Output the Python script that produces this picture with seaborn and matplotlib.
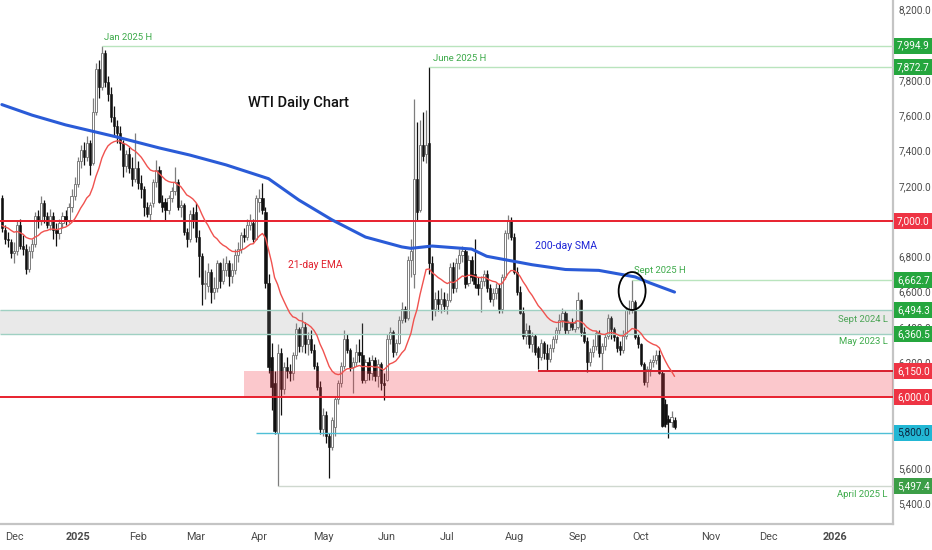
import matplotlib
matplotlib.use("Agg")
import matplotlib.pyplot as plt
from matplotlib.patches import Ellipse
from matplotlib.transforms import blended_transform_factory
from matplotlib.ticker import StrMethodFormatter
import seaborn as sns
import numpy as np
import pandas as pd

sns.set_theme(style="white")
plt.rcParams['font.family'] = ['Roboto', 'DejaVu Sans']

# daily WTI bars, 25 Nov 2024 -> 16 Oct 2025 (one value per trading day)
opens = [
    7130, 6950, 6900, 6880,                                                   # Nov
    6820, 6830, 6980, 6860, 6840, 6730, 6830, 6870, 7030, 7000, 7100, 7030,
    6980, 7030, 6950, 6930, 6990, 7030, 7000, 7080, 7140,                     # Dec
    7210, 7340, 7400, 7360, 7440, 7330, 7620, 7860, 7760, 7950, 7790, 7720,
    7590, 7540, 7500, 7440, 7310, 7380, 7300, 7240,                           # Jan
    7300, 7215, 7180, 7080, 7040, 7100, 7220, 7290, 7110, 7110, 7060, 7130,
    7170, 7220, 7080, 7090, 6940, 6900, 7040,                                 # Feb
    7050, 6910, 6800, 6640, 6630, 6710, 6600, 6620, 6760, 6660, 6720, 6760,
    6690, 6720, 6810, 6840, 6920, 6910, 6980, 6990, 6900,                     # Mar
    7110, 7130, 7050, 6650, 6230, 6080, 5800, 6250, 6050, 6170, 6150, 6140,
    6240, 6390, 6290, 6400, 6300, 6330, 6270, 6180, 6060,                     # Apr
    5820, 5900, 5780, 5720, 5830, 5990, 6080, 6180, 6330, 6270, 6170, 6200,
    6260, 6240, 6100, 6200, 6140, 6210, 6120, 6190, 6080,                     # May
    6100, 6330, 6370, 6260, 6310, 6440, 6500, 6450, 6780, 6700, 7240, 7060,
    7430, 7380, 7440, 6760, 6500, 6560, 6530, 6560,                           # Jun
    6520, 6550, 6740, 6620, 6760, 6810, 6830, 6650, 6780, 6700, 6640, 6620,
    6660, 6700, 6620, 6560, 6590, 6620, 6500, 6680, 6930, 7000,               # Jul
    6910, 6710, 6600, 6480, 6350, 6380, 6300, 6350, 6280, 6230, 6310, 6250,
    6220, 6280, 6330, 6380, 6440, 6480, 6380, 6420, 6390,                     # Aug
    6400, 6550, 6370, 6320, 6200, 6260, 6290, 6365, 6250, 6290, 6350, 6450,
    6390, 6340, 6290, 6270, 6350, 6495, 6500, 6540, 6345,                     # Sep
    6300, 6190, 6085, 6160, 6200, 6210, 6240, 6140, 5960, 5880, 5860, 5870,   # Oct
]
highs = [
    7150, 6980, 6940, 6900,
    6880, 7000, 7010, 6920, 6870, 6860, 6900, 7050, 7060, 7140, 7120, 7050,
    7070, 7050, 6990, 7010, 7050, 7060, 7100, 7180, 7250,
    7360, 7430, 7450, 7480, 7460, 7700, 7895, 7910, 7995, 7970, 7820, 7760,
    7650, 7570, 7540, 7460, 7400, 7420, 7360, 7500,
    7340, 7260, 7200, 7110, 7110, 7240, 7346, 7310, 7150, 7130, 7150, 7190,
    7306, 7240, 7120, 7100, 6960, 7060, 7080,
    7100, 6950, 6820, 6720, 6760, 6730, 6680, 6780, 6770, 6790, 6800, 6780,
    6760, 6840, 6880, 6940, 6960, 7010, 7040, 7010, 7150,
    7180, 7215, 7080, 6700, 6310, 6150, 6300, 6280, 6200, 6230, 6190, 6260,
    6420, 6400, 6484, 6430, 6370, 6380, 6300, 6200, 6090,
    5940, 5920, 5800, 5890, 6010, 6100, 6200, 6380, 6360, 6280, 6230, 6300,
    6330, 6422, 6220, 6230, 6240, 6230, 6220, 6200, 6140,
    6360, 6400, 6380, 6330, 6460, 6540, 6520, 6800, 6900, 7690, 7560, 7570,
    7620, 7630, 7873, 6800, 6600, 6610, 6620, 6600,
    6590, 6760, 6770, 6790, 6840, 6860, 6840, 6810, 6800, 6900, 6680, 6690,
    6720, 6720, 6640, 6620, 6650, 6640, 6700, 6950, 7034, 7020,
    6930, 6740, 6630, 6510, 6420, 6410, 6370, 6360, 6290, 6330, 6320, 6300,
    6300, 6350, 6400, 6470, 6507, 6490, 6440, 6450, 6440,
    6597, 6560, 6400, 6340, 6280, 6330, 6380, 6380, 6310, 6360, 6470, 6460,
    6400, 6350, 6320, 6380, 6510, 6550, 6663, 6550, 6360,
    6310, 6200, 6180, 6220, 6240, 6270, 6269, 6150, 5990, 5900, 5920, 5890,
]
lows = [
    6940, 6870, 6850, 6790,
    6760, 6810, 6840, 6810, 6700, 6710, 6790, 6850, 6960, 6980, 6990, 6960,
    6950, 6900, 6860, 6900, 6960, 6980, 6990, 7050, 7120,
    7190, 7300, 7320, 7340, 7260, 7320, 7600, 7700, 7740, 7760, 7680, 7560,
    7480, 7440, 7400, 7250, 7280, 7270, 7200, 7220,
    7180, 7130, 7030, 7020, 7000, 7080, 7190, 7100, 7050, 7005, 7040, 7110,
    7150, 7060, 7020, 6920, 6853, 6880, 6960,
    6880, 6680, 6524, 6560, 6600, 6535, 6560, 6600, 6620, 6640, 6690, 6630,
    6650, 6700, 6770, 6820, 6880, 6890, 6950, 6880, 6890,
    7050, 7040, 6620, 6140, 5930, 5790, 5497, 5900, 6020, 6110, 6090, 6100,
    6220, 6260, 6260, 6250, 6240, 6250, 6160, 6040, 5790,
    5780, 5740, 5543, 5700, 5780, 5960, 6060, 6160, 6250, 6150, 6025, 6180,
    6200, 6080, 6080, 6100, 6100, 6090, 6060, 6042, 5985,
    6090, 6300, 6230, 6240, 6300, 6420, 6430, 6440, 6680, 6620, 7000, 7050,
    7340, 7330, 6700, 6440, 6460, 6490, 6480, 6490,
    6470, 6540, 6590, 6600, 6730, 6770, 6620, 6630, 6660, 6620, 6580, 6484,
    6630, 6600, 6540, 6520, 6560, 6480, 6480, 6670, 6900, 6890,
    6700, 6580, 6470, 6330, 6300, 6280, 6260, 6240, 6160, 6210, 6220, 6155,
    6200, 6260, 6310, 6360, 6400, 6360, 6360, 6380, 6370,
    6390, 6350, 6310, 6144, 6180, 6230, 6270, 6230, 6155, 6270, 6330, 6330,
    6320, 6260, 6240, 6250, 6330, 6470, 6480, 6330, 6280,
    6180, 6070, 6060, 6120, 6170, 6190, 6130, 5830, 5830, 5770, 5830, 5820,
]
closes = [
    6960, 6900, 6890, 6820,
    6830, 6980, 6860, 6840, 6730, 6830, 6870, 7030, 7000, 7100, 7030, 6980,
    7030, 6950, 6930, 6990, 7030, 7000, 7080, 7140, 7210,
    7340, 7400, 7360, 7440, 7320, 7620, 7860, 7760, 7950, 7790, 7720, 7590,
    7540, 7500, 7440, 7310, 7380, 7300, 7240, 7300,
    7215, 7180, 7080, 7040, 7090, 7220, 7290, 7110, 7080, 7060, 7130, 7170,
    7220, 7080, 7090, 6940, 6900, 7040, 7000,
    6910, 6800, 6640, 6650, 6710, 6600, 6620, 6760, 6660, 6720, 6760, 6690,
    6720, 6810, 6840, 6920, 6910, 6980, 7000, 6900, 7130,
    7130, 7060, 6650, 6170, 6060, 5810, 6250, 6050, 6170, 6150, 6140, 6240,
    6390, 6290, 6400, 6300, 6330, 6270, 6180, 6060, 5820,
    5900, 5780, 5720, 5870, 5990, 6080, 6180, 6330, 6270, 6170, 6200, 6260,
    6240, 6100, 6200, 6140, 6210, 6120, 6190, 6080, 6070,
    6330, 6370, 6260, 6310, 6440, 6500, 6450, 6780, 6830, 7240, 7050, 7430,
    7370, 7430, 6760, 6500, 6560, 6530, 6560, 6520,
    6550, 6740, 6620, 6760, 6810, 6830, 6640, 6780, 6680, 6640, 6620, 6660,
    6700, 6620, 6560, 6590, 6620, 6500, 6680, 6930, 7000, 6910,
    6710, 6600, 6480, 6350, 6380, 6300, 6350, 6260, 6230, 6310, 6250, 6220,
    6280, 6330, 6380, 6440, 6480, 6380, 6420, 6400, 6420,
    6550, 6370, 6320, 6200, 6260, 6290, 6365, 6250, 6290, 6340, 6450, 6390,
    6340, 6280, 6270, 6350, 6495, 6500, 6545, 6345, 6300,
    6190, 6085, 6160, 6200, 6210, 6240, 6140, 5840, 5850, 5860, 5890, 5830,
]

# 200-day SMA at a few dates
sma_dates = ['2024-11-25', '2024-12-10', '2024-12-26', '2025-01-23', '2025-02-12',
             '2025-02-27', '2025-03-17', '2025-04-04', '2025-04-21', '2025-05-06',
             '2025-05-21', '2025-06-09', '2025-06-12', '2025-06-24', '2025-07-14',
             '2025-07-21', '2025-08-11', '2025-08-26', '2025-09-11', '2025-09-29',
             '2025-10-06', '2025-10-16']
sma_vals = [7660, 7600, 7545, 7476, 7414, 7374, 7318, 7240, 7119, 7006, 6909,
            6853, 6845, 6858, 6841, 6800, 6752, 6725, 6720, 6683, 6648, 6597]
ema_seed = 6975

# levels drawn on the chart
level_vals = [7994.9, 7872.7, 7000.0, 6662.7, 6494.3, 6360.5, 6150.0, 6000.0, 5800.0, 5497.4]
level_from = ['2025-01-15', '2025-06-23', None, '2025-09-26', None, None,
              '2025-08-13', None, '2025-03-31', '2025-04-09']
level_line = ['#b9e4bd', '#b9e4bd', '#e8202e', '#b9e4bd', '#9fd0c2', '#9fd0c2',
              '#d81f2d', '#e8202e', '#4fbfd6', '#cfd8cf']
level_box = ['#25a63e', '#25a63e', '#ee3444', '#25a63e', '#25a63e', '#25a63e',
             '#ee3444', '#ee3444', '#22b7d4', '#3c9e47']
level_txt = ['white'] * 8 + ['#0b2540', 'white']

holidays = pd.to_datetime(['2024-11-28', '2024-12-25', '2025-01-01', '2025-01-09',
                           '2025-01-20', '2025-02-17', '2025-04-18', '2025-05-26',
                           '2025-06-19', '2025-07-04', '2025-09-01', '2025-11-27',
                           '2025-12-25', '2026-01-01'])
days = pd.bdate_range('2024-11-25', '2026-01-09')
days = days[~days.isin(holidays)]


def pos_of(d):
    return days.get_loc(pd.Timestamp(d))


df = pd.DataFrame({'date': days[:len(closes)], 'open': opens, 'high': highs,
                   'low': lows, 'close': closes})
df['pos'] = np.arange(len(df))
df['ema'] = pd.Series([ema_seed] + closes).ewm(span=21, adjust=False).mean().values[1:]
sma = pd.DataFrame({'pos': [pos_of(d) for d in sma_dates], 'sma': sma_vals})

fig = plt.figure(figsize=(9.32, 5.5), dpi=100)
ax = fig.add_axes([0, 26 / 550, 893 / 932, 524 / 550])
xmin, xmax = -0.62, 294.1
ax.set_xlim(xmin, xmax)
ax.set_ylim(5282, 8253)

# zones
ax.fill_between([xmin, xmax], 6360.5, 6494.3, color='#8c8c8c', alpha=0.19, lw=0, zorder=4)
ax.fill_between([pos_of('2025-03-25'), xmax], 6000, 6150, color='#f23645', alpha=0.27,
                lw=0, zorder=4)
for v, d, c in zip(level_vals, level_from, level_line):
    x0 = xmin if d is None else pos_of(d)
    lw = 1.4 if c in ('#e8202e', '#d81f2d') else 1.0
    ax.hlines(v, x0, xmax, colors=c, lw=lw, zorder=5)

# candles
up = df[df.close >= df.open]
dn = df[df.close < df.open]
ax.vlines(up.pos, up.low, up.high, colors='#7d7d7d', lw=0.9, zorder=2)
ax.vlines(dn.pos, dn.low, dn.high, colors='#111111', lw=0.9, zorder=2)
ax.bar(up.pos, (up.close - up.open).clip(lower=5), bottom=up.open, width=0.72,
       color='white', edgecolor='#7d7d7d', lw=0.7, zorder=3)
ax.bar(dn.pos, (dn.open - dn.close).clip(lower=5), bottom=dn.close, width=0.72,
       color='#111111', edgecolor='#111111', lw=0.4, zorder=3)

# moving averages
sns.lineplot(data=df, x='pos', y='ema', ax=ax, color='#f0524f', lw=1.0, zorder=6)
sns.lineplot(data=sma, x='pos', y='sma', ax=ax, color='#2a5bd7', lw=2.2, zorder=6)

ax.add_patch(Ellipse((pos_of('2025-09-26'), 6603), 8.9, 215, fill=False,
                     ec='black', lw=1.3, zorder=7))

green = '#3daa4a'
ax.text(33.7, 8043, 'Jan 2025 H', color=green, fontsize=6.8, va='center')
ax.text(142.3, 7924, 'June 2025 H', color=green, fontsize=6.8, va='center')
ax.text(208.6, 6722, 'Sept 2025 H', color=green, fontsize=6.8, va='center')
ax.text(292.4, 6444, 'Sept 2024 L', color=green, fontsize=6.8, va='center', ha='right')
ax.text(292.4, 6314, 'May 2023 L', color=green, fontsize=6.8, va='center', ha='right')
ax.text(292.4, 5452, 'April 2025 L', color=green, fontsize=6.8, va='center', ha='right')
ax.text(81.2, 7669, 'WTI Daily Chart', color='#111111', fontsize=10.5, va='center',
        fontweight='medium')
ax.text(94.4, 6750, '21-day EMA', color='#e0202c', fontsize=7.4, va='center')
ax.text(176, 6858, '200-day SMA', color='#1e24d6', fontsize=7.6, va='center')

# axes styling
for s in ['top', 'left']:
    ax.spines[s].set_visible(False)
for s in ['right', 'bottom']:
    ax.spines[s].set_color('#c4c4c4')
    ax.spines[s].set_linewidth(1.6)
ax.yaxis.tick_right()
ax.set_yticks(np.arange(5400, 8201, 200))
ax.yaxis.set_major_formatter(StrMethodFormatter('{x:,.1f}'))
ax.tick_params(axis='y', length=0, pad=4, labelsize=7.2, colors='#4a4a4a')

month_first = pd.Series(np.arange(len(days)), index=days).groupby(
    [days.year, days.month]).min()
tick_pos, tick_lab = [], []
for (yr, mo), p in month_first.items():
    if p < 3:
        continue
    tick_pos.append(p)
    tick_lab.append(str(yr) if mo == 1 else pd.Timestamp(yr, mo, 1).strftime('%b'))
ax.set_xticks(tick_pos)
ax.set_xticklabels(tick_lab)
ax.tick_params(axis='x', length=0, pad=6, labelsize=7.8, colors='#4a4a4a')
for t in ax.get_xticklabels():
    if t.get_text().isdigit():
        t.set_fontweight('bold')
ax.set_xlabel('')
ax.set_ylabel('')

trans = blended_transform_factory(ax.transAxes, ax.transData)
for v, fc, tc in zip(level_vals, level_box, level_txt):
    ax.text(1.0045, v, f'{v:,.1f}', transform=trans, ha='left', va='center',
            fontsize=7.2, color=tc, clip_on=False, zorder=10,
            bbox=dict(boxstyle='square,pad=0.3', fc=fc, ec='none'))

fig.savefig('out.png', dpi=100)
